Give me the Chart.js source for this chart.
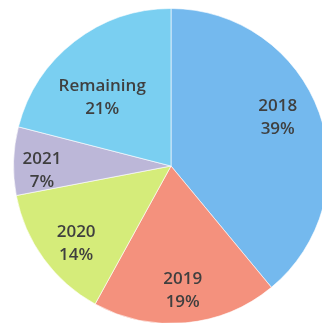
<!DOCTYPE html>
<html>
<head>
<meta charset="utf-8">
<script src="https://cdn.jsdelivr.net/npm/chart.js@4"></script>
<style>
  html, body { margin: 0; padding: 0; background: #fff; overflow: hidden; }
  #wrap { position: relative; width: 340px; height: 330px; }
</style>
</head>
<body>
<div id="wrap"><canvas id="pie"></canvas></div>
<script>
// ─── DATA ───────────────────────────────────────────────
const labels = ['2018', '2019', '2020', '2021', 'Remaining'];
const shares = [39, 19, 14, 7, 21];
const colors = ['#74b9ee', '#f4917d', '#d5ec7a', '#bcb7d8', '#7acff1'];

// label placement: [fraction of radius, angle shift in degrees]
const labelPos = [[0.745, -4.8], [0.79, 0], [0.775, -3], [0.82, -3.6], [0.62, -7]];

const sliceLabels = {
  id: 'sliceLabels',
  afterDatasetsDraw(chart) {
    const { ctx } = chart;
    const arcs = chart.getDatasetMeta(0).data;
    ctx.save();
    ctx.font = "600 17px 'Open Sans'";
    ctx.fillStyle = '#3f3f3f';
    ctx.textAlign = 'center';
    ctx.textBaseline = 'middle';
    arcs.forEach((arc, i) => {
      const p = arc.getProps(['x', 'y', 'startAngle', 'endAngle', 'outerRadius'], true);
      const [f, shift] = labelPos[i];
      const mid = (p.startAngle + p.endAngle) / 2 + shift * Math.PI / 180;
      const x = p.x + Math.cos(mid) * p.outerRadius * f;
      const y = p.y + Math.sin(mid) * p.outerRadius * f;
      ctx.fillText(labels[i], x, y - 11);
      ctx.fillText(shares[i] + '%', x, y + 12);
    });
    ctx.restore();
  },
};

new Chart(document.getElementById('pie'), {
  type: 'pie',
  data: {
    labels,
    datasets: [{
      data: shares,
      backgroundColor: colors,
      borderColor: 'rgba(255,255,255,0.6)',
      borderWidth: 1,
    }],
  },
  options: {
    responsive: true,
    maintainAspectRatio: false,
    animation: false,
    layout: { padding: { left: 13, right: 11, top: 8, bottom: 6 } },
    plugins: { legend: { display: false }, tooltip: { enabled: false } },
  },
  plugins: [sliceLabels],
});
</script>
</body>
</html>
